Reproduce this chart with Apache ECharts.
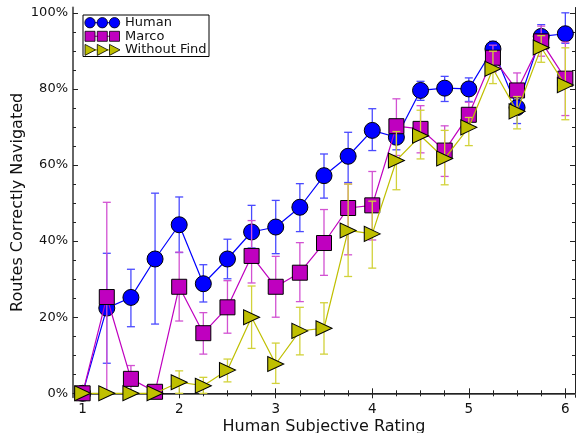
<!DOCTYPE html>
<html>
<head>
<meta charset="utf-8">
<script src="https://cdn.jsdelivr.net/npm/echarts@6/dist/echarts.min.js"></script>
<style>
html,body{margin:0;padding:0;background:#fff;overflow:hidden;}
#chart{width:581px;height:433px;}
</style>
</head>
<body>
<div id="chart"></div>
<script>
// ---- data ----
const ratings = [1,1.25,1.5,1.75,2,2.25,2.5,2.75,3,3.25,3.5,3.75,4,4.25,4.5,4.75,5,5.25,5.5,5.75,6];
const seriesNames = ['Human', 'Marco', 'Without Find'];

const humanVal  = [0,22.4,25.2,35.3,44.3,28.8,35.3,42.4,43.7,48.9,57.2,62.3,69.1,67.3,79.6,80.2,80.0,90.5,75.1,93.8,94.5];
const humanLow  = [0,7.9,17.5,18.2,37.0,24.0,30.1,38.2,36.7,42.5,51.3,55.4,63.8,64.0,77.0,76.7,76.7,88.5,70.9,91.0,92.0];
const humanHigh = [0,36.8,32.6,52.6,51.6,33.8,40.5,49.4,50.7,55.1,62.9,68.6,74.8,70.5,82.0,83.3,82.9,92.5,79.0,96.9,100];

const marcoVal  = [0,25.3,3.8,0.4,28.0,15.8,22.6,36.1,28.0,31.7,39.5,48.7,49.4,70.2,69.5,63.8,73.2,88.2,79.6,92.5,82.7];
const marcoLow  = [0,0,0,0.4,19.0,10.3,15.8,29.0,20.0,24.1,31.0,36.4,40.3,62.5,63.2,57.0,69.5,84.5,74.0,88.6,73.0];
const marcoHigh = [0,50.2,7.3,0.4,37.1,21.2,29.6,45.4,36.0,39.6,48.3,55.0,58.3,77.4,75.6,70.3,76.5,91.5,84.2,96.5,92.3];

const wfVal  = [0,0,0,0,2.9,2.0,6.1,20.0,7.7,16.4,17.1,42.8,41.9,61.2,67.7,61.7,69.9,85.3,74.1,90.9,81.0];
const wfLow  = [0,0,0,0,0,0,3.0,11.8,2.6,10.1,10.3,30.7,32.9,53.5,61.6,54.8,65.1,81.4,69.5,87.0,71.9];
const wfHigh = [0,0,0,0,5.9,4.2,9.0,28.2,13.2,22.6,23.8,55.0,50.5,68.8,74.4,69.1,72.5,89.9,78.0,94.0,90.8];

const xMajorTicks = [1,2,3,4,5,6];
const xMinorTicks = [1.25,1.5,1.75,2.25,2.5,2.75,3.25,3.5,3.75,4.25,4.5,4.75,5.25,5.5,5.75];
const yMajorTicks = [0,20,40,60,80,100];
const yMinorTicks = [5,10,15,25,30,35,45,50,55,65,70,75,85,90,95];

// ---- styles ----
const lineColors = ['#0000ff', '#bf00bf', '#bfbf00'];
const barColors  = ['#4a4aff', '#d252d2', '#d2d23a'];
const symbols = ['circle', 'rect', 'triangle'];
const symbolSizes = [16, 15, [15, 16]];
const symbolRotates = [0, 0, -90];
const FONT = 'DejaVu Sans';

const vals = [humanVal, marcoVal, wfVal];
const lows = [humanLow, marcoLow, wfLow];
const highs = [humanHigh, marcoHigh, wfHigh];

const chart = echarts.init(document.getElementById('chart'), null, {renderer: 'canvas', width: 581, height: 433});

const series = [];
seriesNames.forEach((name, i) => {
  const errData = [];
  ratings.forEach((x, k) => {
    if (highs[i][k] !== lows[i][k]) errData.push([x, lows[i][k], highs[i][k]]);
  });
  series.push({
    type: 'custom',
    name: name + ' err',
    xAxisIndex: 0, yAxisIndex: 0,
    z: 2 + i * 2,
    silent: true,
    data: errData,
    renderItem: (params, api) => {
      const x = api.value(0);
      const pLo = api.coord([x, api.value(1)]);
      const pHi = api.coord([x, api.value(2)]);
      const cw = 4;
      const st = {stroke: barColors[i], lineWidth: 1.3};
      return {
        type: 'group',
        children: [
          {type: 'line', shape: {x1: pLo[0], y1: pLo[1], x2: pHi[0], y2: pHi[1]}, style: st},
          {type: 'line', shape: {x1: pLo[0]-cw, y1: pLo[1], x2: pLo[0]+cw, y2: pLo[1]}, style: st},
          {type: 'line', shape: {x1: pHi[0]-cw, y1: pHi[1], x2: pHi[0]+cw, y2: pHi[1]}, style: st}
        ]
      };
    }
  });
  series.push({
    type: 'line',
    name: name,
    xAxisIndex: 0, yAxisIndex: 0,
    z: 3 + i * 2,
    data: ratings.map((x, k) => [x, vals[i][k]]),
    symbol: symbols[i],
    symbolSize: symbolSizes[i],
    symbolRotate: symbolRotates[i],
    showAllSymbol: true,
    animation: false,
    lineStyle: {color: lineColors[i], width: 1.2},
    itemStyle: {color: lineColors[i], borderColor: '#000', borderWidth: 1, opacity: 1},
    emphasis: {disabled: true}
  });
});

// legend drawn as graphics
const legendChildren = [{
  type: 'rect', shape: {x: 83, y: 15, width: 126, height: 41.5},
  style: {fill: '#fff', stroke: '#000', lineWidth: 1}
}];
seriesNames.forEach((name, i) => {
  const cy = 22.7 + i * 13.6;
  legendChildren.push({type: 'line', shape: {x1: 89, y1: cy, x2: 115, y2: cy}, style: {stroke: lineColors[i], lineWidth: 1.2}});
  [90, 102.3, 114.5].forEach(cx => {
    if (i === 0) legendChildren.push({type: 'circle', shape: {cx: cx, cy: cy, r: 5.2}, style: {fill: lineColors[i], stroke: '#000', lineWidth: 0.8}});
    else if (i === 1) legendChildren.push({type: 'rect', shape: {x: cx-5, y: cy-5, width: 10, height: 10}, style: {fill: lineColors[i], stroke: '#000', lineWidth: 0.8}});
    else legendChildren.push({type: 'polygon', shape: {points: [[cx-5, cy-5.5], [cx+5.5, cy], [cx-5, cy+5.5]]}, style: {fill: lineColors[i], stroke: '#000', lineWidth: 0.8}});
  });
  legendChildren.push({type: 'text', style: {x: 125, y: cy, text: name, fontFamily: FONT, fontSize: 13, fill: '#111', verticalAlign: 'middle', align: 'left'}});
});

const axisCommon = {
  type: 'value', min: 0.9, max: 6.1, splitLine: {show: false}
};
const yCommon = {
  type: 'value', min: -1.05, max: 101.4, splitLine: {show: false}
};

const option = {
  animation: false,
  backgroundColor: '#fff',
  grid: {left: 73, right: 6, top: 7.5, bottom: 35.7, containLabel: false, outerBoundsMode: 'none'},
  xAxis: [
    Object.assign({}, axisCommon, {
      position: 'bottom',
      name: 'Human Subjective Rating', nameLocation: 'middle', nameGap: 21.5, nameMoveOverlap: false,
      nameTextStyle: {fontFamily: FONT, fontSize: 16, color: '#111'},
      axisLine: {show: true, lineStyle: {color: '#666', width: 2}},
      axisTick: {show: true, inside: true, length: 5, customValues: xMajorTicks, lineStyle: {color: '#222', width: 1}},
      axisLabel: {show: true, customValues: xMajorTicks, margin: 5, fontFamily: FONT, fontSize: 13.5, color: '#111'}
    }),
    Object.assign({}, axisCommon, {
      position: 'bottom',
      axisLine: {show: false},
      axisTick: {show: true, inside: true, length: 3, customValues: xMinorTicks, lineStyle: {color: '#222', width: 1}},
      axisLabel: {show: false}
    }),
    Object.assign({}, axisCommon, {
      position: 'top',
      axisLine: {show: true, lineStyle: {color: '#222', width: 1}},
      axisTick: {show: true, inside: true, length: 5, customValues: xMajorTicks, lineStyle: {color: '#222', width: 1}},
      axisLabel: {show: false}
    }),
    Object.assign({}, axisCommon, {
      position: 'top',
      axisLine: {show: false},
      axisTick: {show: true, inside: true, length: 3, customValues: xMinorTicks, lineStyle: {color: '#222', width: 1}},
      axisLabel: {show: false}
    })
  ],
  yAxis: [
    Object.assign({}, yCommon, {
      position: 'left',
      name: 'Routes Correctly Navigated', nameLocation: 'middle', nameGap: 47, nameMoveOverlap: false,
      nameTextStyle: {fontFamily: FONT, fontSize: 16, color: '#111'},
      axisLine: {show: true, lineStyle: {color: '#666', width: 2}},
      axisTick: {show: true, inside: true, length: 5, customValues: yMajorTicks, lineStyle: {color: '#222', width: 1}},
      axisLabel: {show: true, customValues: yMajorTicks, margin: 5, fontFamily: FONT, fontSize: 13, color: '#111', formatter: v => v + '%'}
    }),
    Object.assign({}, yCommon, {
      position: 'left',
      axisLine: {show: false},
      axisTick: {show: true, inside: true, length: 3, customValues: yMinorTicks, lineStyle: {color: '#222', width: 1}},
      axisLabel: {show: false}
    }),
    Object.assign({}, yCommon, {
      position: 'right',
      axisLine: {show: true, lineStyle: {color: '#222', width: 1}},
      axisTick: {show: true, inside: true, length: 5, customValues: yMajorTicks, lineStyle: {color: '#222', width: 1}},
      axisLabel: {show: false}
    }),
    Object.assign({}, yCommon, {
      position: 'right',
      axisLine: {show: false},
      axisTick: {show: true, inside: true, length: 3, customValues: yMinorTicks, lineStyle: {color: '#222', width: 1}},
      axisLabel: {show: false}
    })
  ],
  series: series,
  graphic: [{type: 'group', z: 100, children: legendChildren}]
};
chart.setOption(option);
</script>
</body>
</html>
